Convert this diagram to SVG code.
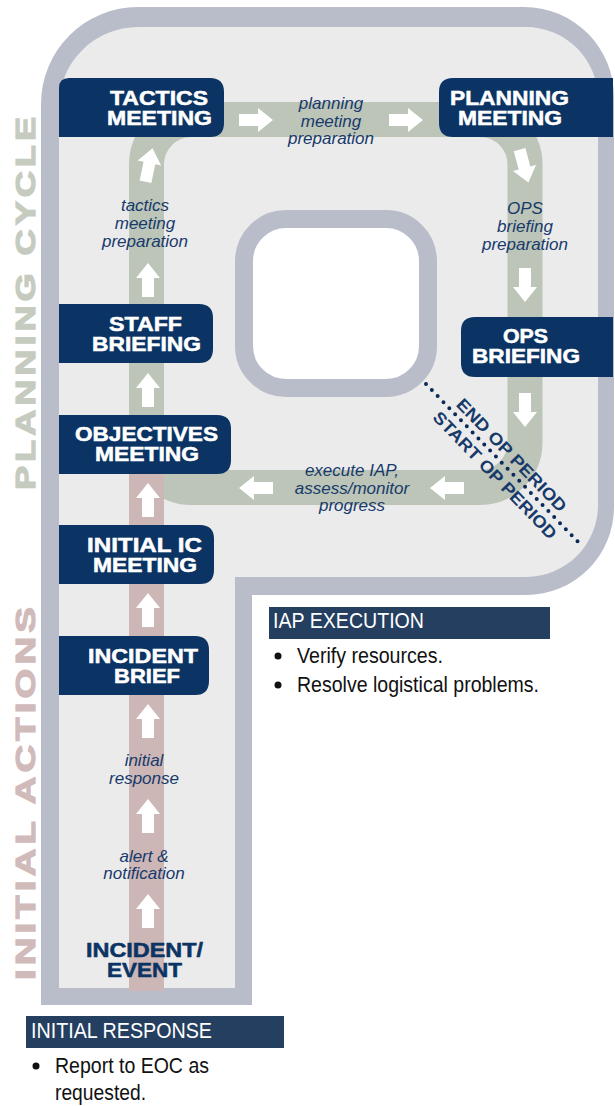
<svg xmlns="http://www.w3.org/2000/svg" xmlns:xlink="http://www.w3.org/1999/xlink" width="615" height="1106" viewBox="0 0 615 1106">
<style>
.node{font-family:"Liberation Sans",Arial,sans-serif;font-weight:bold;font-size:19.5px;fill:#ffffff;stroke:#ffffff;stroke-width:0.5px;text-anchor:middle}
.box{fill:#0B3464}
.lbl{font-family:"Liberation Sans",Arial,sans-serif;font-style:italic;font-size:17px;fill:#173A6B;text-anchor:middle}
.side{font-family:"Liberation Sans",Arial,sans-serif;font-weight:bold;font-size:28px;text-anchor:middle;letter-spacing:3px;stroke-width:1.2px}
.op{font-family:"Liberation Sans",Arial,sans-serif;font-weight:bold;font-size:17px;fill:#173A6B;text-anchor:middle}
.hdr{fill:#243F60}
.hdrt{font-family:"Liberation Sans",Arial,sans-serif;font-size:22px;fill:#ffffff}
.bul{font-family:"Liberation Sans",Arial,sans-serif;font-size:22px;fill:#111111}
.arrow{fill:#ffffff}
</style>
<defs>
<path id="arr" d="M0,-17 L12,-2 L6,-2 L6,17 L-6,17 L-6,-2 L-12,-2 Z"/>
</defs>
<rect width="615" height="1106" fill="#ffffff"/>
<g id="frame">
<path d="M41,1005 L41,104 A97,97 0 0 1 138,7 L524,7 A90,90 0 0 1 614,97 L614,507 A88,88 0 0 1 526,595 L252,595 L252,1005 Z" fill="#B9BDCA"/>
<path d="M59,988 L59,106 A79,79 0 0 1 138,27 L526,27 A72,72 0 0 1 598,99 L598,505 A72,72 0 0 1 526,577 L235,577 L235,988 Z" fill="#EBEBEB"/>
<rect x="244" y="219" width="184" height="169" rx="42" fill="#ffffff" stroke="#B9BDCA" stroke-width="18"/>
</g>
<g id="connectors">
<rect x="146.5" y="119.5" width="378.5" height="368" rx="45" fill="none" stroke="#BCC5B8" stroke-width="35"/>
<rect x="129" y="470" width="35" height="521" fill="#CDB6B6"/>
<g class="arrow">
<use xlink:href="#arr" transform="translate(149,165) rotate(12)"/>
<use xlink:href="#arr" transform="translate(148,280)"/>
<use xlink:href="#arr" transform="translate(148,390)"/>
<use xlink:href="#arr" transform="translate(148,500)"/>
<use xlink:href="#arr" transform="translate(148,610)"/>
<use xlink:href="#arr" transform="translate(148,721)"/>
<use xlink:href="#arr" transform="translate(148,816)"/>
<use xlink:href="#arr" transform="translate(148,911)"/>
<use xlink:href="#arr" transform="translate(256,120) rotate(90)"/>
<use xlink:href="#arr" transform="translate(406,120) rotate(90)"/>
<use xlink:href="#arr" transform="translate(524,166) rotate(165)"/>
<use xlink:href="#arr" transform="translate(525,285) rotate(180)"/>
<use xlink:href="#arr" transform="translate(525,410) rotate(180)"/>
<use xlink:href="#arr" transform="translate(447,488) rotate(-90)"/>
<use xlink:href="#arr" transform="translate(256,488) rotate(-90)"/>
</g>
<text class="lbl"><tspan x="331" y="109">planning</tspan><tspan x="331" y="126.5">meeting</tspan><tspan x="331" y="144">preparation</tspan></text>
<text class="lbl"><tspan x="145" y="211">tactics</tspan><tspan x="145" y="229">meeting</tspan><tspan x="145" y="246.5">preparation</tspan></text>
<text class="lbl"><tspan x="525" y="214">OPS</tspan><tspan x="525" y="232">briefing</tspan><tspan x="525" y="250">preparation</tspan></text>
<text class="lbl"><tspan x="352" y="476">execute IAP,</tspan><tspan x="352" y="494">assess/monitor</tspan><tspan x="352" y="511">progress</tspan></text>
<text class="lbl"><tspan x="144" y="766">initial</tspan><tspan x="144" y="784">response</tspan></text>
<text class="lbl"><tspan x="144" y="862">alert &amp;</tspan><tspan x="144" y="879">notification</tspan></text>
</g>
<g id="tactics-meeting">
<path class="box" d="M59,88 Q59,78 69,78 L210,78 Q224,78 224,92 L224,123 Q224,137 210,137 L59,137 Z"/>
<text class="node"><tspan x="159" y="104.5" textLength="98" lengthAdjust="spacingAndGlyphs">TACTICS</tspan><tspan x="159.5" y="124.5" textLength="105" lengthAdjust="spacingAndGlyphs">MEETING</tspan></text>
</g>
<g id="planning-meeting">
<path class="box" d="M613,78 L453,78 Q439,78 439,92 L439,123 Q439,137 453,137 L613,137 Z"/>
<text class="node"><tspan x="509.5" y="104.5" textLength="119" lengthAdjust="spacingAndGlyphs">PLANNING</tspan><tspan x="510" y="124.5" textLength="104" lengthAdjust="spacingAndGlyphs">MEETING</tspan></text>
</g>
<g id="ops-briefing">
<path class="box" d="M613,317 L475,317 Q461,317 461,331 L461,363 Q461,377 475,377 L613,377 Z"/>
<text class="node"><tspan x="525.5" y="343" textLength="45" lengthAdjust="spacingAndGlyphs">OPS</tspan><tspan x="526" y="363" textLength="108" lengthAdjust="spacingAndGlyphs">BRIEFING</tspan></text>
</g>
<g id="staff-briefing">
<path class="box" d="M59,304 L199,304 Q213,304 213,318 L213,349 Q213,363 199,363 L59,363 Z"/>
<text class="node"><tspan x="145.5" y="331" textLength="73" lengthAdjust="spacingAndGlyphs">STAFF</tspan><tspan x="146.5" y="351" textLength="109" lengthAdjust="spacingAndGlyphs">BRIEFING</tspan></text>
</g>
<g id="objectives-meeting">
<path class="box" d="M59,415 L217,415 Q231,415 231,429 L231,460 Q231,474 217,474 L59,474 Z"/>
<text class="node"><tspan x="146.5" y="441" textLength="143" lengthAdjust="spacingAndGlyphs">OBJECTIVES</tspan><tspan x="147" y="461" textLength="104" lengthAdjust="spacingAndGlyphs">MEETING</tspan></text>
</g>
<g id="initial-ic-meeting">
<path class="box" d="M59,525 L200,525 Q214,525 214,539 L214,570 Q214,584 200,584 L59,584 Z"/>
<text class="node"><tspan x="144.5" y="552" textLength="115" lengthAdjust="spacingAndGlyphs">INITIAL IC</tspan><tspan x="145" y="572" textLength="104" lengthAdjust="spacingAndGlyphs">MEETING</tspan></text>
</g>
<g id="incident-brief">
<path class="box" d="M59,636 L195,636 Q209,636 209,650 L209,681 Q209,695 195,695 L59,695 Z"/>
<text class="node"><tspan x="143" y="663" textLength="110" lengthAdjust="spacingAndGlyphs">INCIDENT</tspan><tspan x="147" y="683" textLength="66" lengthAdjust="spacingAndGlyphs">BRIEF</tspan></text>
</g>
<g id="incident-event">
<text class="node" style="fill:#0B3464;stroke:#0B3464"><tspan x="144.5" y="957" textLength="117" lengthAdjust="spacingAndGlyphs">INCIDENT/</tspan><tspan x="144.5" y="977" textLength="75" lengthAdjust="spacingAndGlyphs">EVENT</tspan></text>
</g>
<g id="op-period">
<line x1="426" y1="384" x2="583" y2="547" stroke="#0B2A5A" stroke-width="4" stroke-linecap="round" stroke-dasharray="0 8.4"/>
<g transform="translate(425,383) rotate(46.06)">
<text class="op" x="112" y="-6.5" textLength="150" lengthAdjust="spacingAndGlyphs">END OP PERIOD</text>
<text class="op" x="115" y="19.5" textLength="170" lengthAdjust="spacingAndGlyphs">START OP PERIOD</text>
</g>
</g>
<g id="side-labels">
<text class="side" fill="#C6CBC0" stroke="#C6CBC0" transform="translate(35,301.5) rotate(-90)" x="0" y="0" textLength="377" lengthAdjust="spacingAndGlyphs">PLANNING CYCLE</text>
<text class="side" fill="#D1BABA" stroke="#D1BABA" transform="translate(35,791.5) rotate(-90)" x="0" y="0" textLength="377" lengthAdjust="spacingAndGlyphs">INITIAL ACTIONS</text>
</g>
<g id="iap-execution">
<rect class="hdr" x="269" y="607" width="281" height="32"/>
<text class="hdrt" x="273" y="628" textLength="151" lengthAdjust="spacingAndGlyphs">IAP EXECUTION</text>
<circle cx="278" cy="656" r="3.5" fill="#111111"/>
<text class="bul" x="297" y="663" textLength="146" lengthAdjust="spacingAndGlyphs">Verify resources.</text>
<circle cx="278" cy="685" r="3.5" fill="#111111"/>
<text class="bul" x="297" y="692" textLength="242" lengthAdjust="spacingAndGlyphs">Resolve logistical problems.</text>
</g>
<g id="initial-response">
<rect class="hdr" x="26" y="1016" width="258" height="32"/>
<text class="hdrt" x="31" y="1038" textLength="181" lengthAdjust="spacingAndGlyphs">INITIAL RESPONSE</text>
<circle cx="36" cy="1066" r="3.5" fill="#111111"/>
<text class="bul" x="55" y="1073" textLength="154" lengthAdjust="spacingAndGlyphs">Report to EOC as</text>
<text class="bul" x="55" y="1100" textLength="91" lengthAdjust="spacingAndGlyphs">requested.</text>
</g>
</svg>
